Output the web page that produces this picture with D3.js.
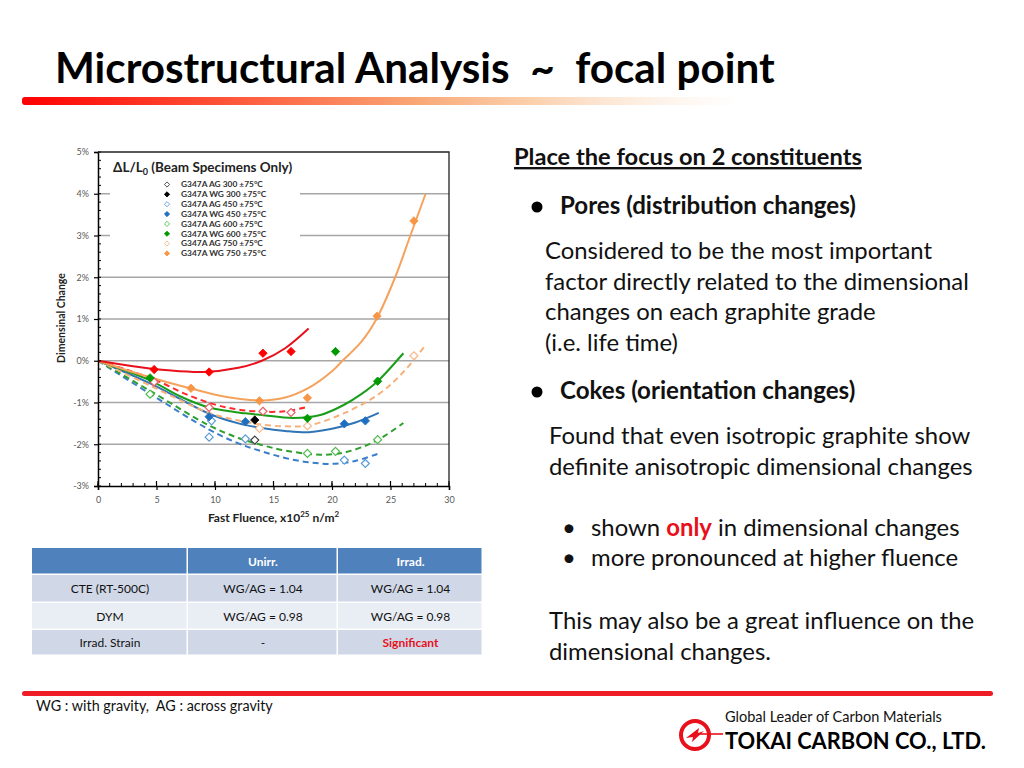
<!DOCTYPE html>
<html>
<head>
<meta charset="utf-8">
<script src="https://cdn.jsdelivr.net/npm/d3@7"></script>
<style>
  body { margin: 0; background: #fff; }
  svg { display: block; }
</style>
</head>
<body>
<svg id="slide" width="1024" height="768"></svg>
<script>
// ---- chart data ----
const xTickValues = [0, 5, 10, 15, 20, 25, 30];
const yTickValues = [-3, -2, -1, 0, 1, 2, 3, 4, 5];

const legendLabels = [
  "G347A AG 300 \u00b175\u00b0C", "G347A WG 300 \u00b175\u00b0C",
  "G347A AG 450 \u00b175\u00b0C", "G347A WG 450 \u00b175\u00b0C",
  "G347A AG 600 \u00b175\u00b0C", "G347A WG 600 \u00b175\u00b0C",
  "G347A AG 750 \u00b175\u00b0C", "G347A WG 750 \u00b175\u00b0C"
];

// measured points [fluence, dL/L0 %]
const ptsAG300 = [[13.4, -1.90]];
const ptsWG300 = [[13.4, -1.42]];
const ptsAG450 = [[9.7, -1.44], [9.5, -1.83], [12.6, -1.87], [21.05, -2.38], [22.85, -2.46]];
const ptsWG450 = [[9.5, -1.34], [12.6, -1.46], [21.05, -1.51], [22.85, -1.44]];
const ptsAG600 = [[4.45, -0.80], [17.9, -2.22], [20.3, -2.17], [23.9, -1.89]];
const ptsWG600 = [[4.45, -0.41], [17.9, -1.38], [20.3, 0.22], [23.9, -0.49]];
const ptsAG750 = [[13.8, -1.62], [17.9, -1.56], [27.0, 0.12]];
const ptsWG750 = [[7.95, -0.66], [13.8, -0.96], [17.9, -0.89], [23.85, 1.07], [27.0, 3.35]];
// red series (not in the legend)
const ptsAGRed = [[4.8, -0.51], [9.5, -1.12], [14.1, -1.21], [16.5, -1.24]];
const ptsWGRed = [[4.8, -0.21], [9.5, -0.27], [14.1, 0.18], [16.5, 0.22]];

// trend curves
const fitWGRed = [[0, 0], [3, -0.13], [6, -0.23], [9, -0.27], [12, -0.17], [14, 0], [16, 0.3], [18, 0.77]];
const fitAGRed = [[0, 0], [2.5, -0.22], [5, -0.47], [7.5, -0.8], [10, -1.05], [12, -1.17], [14, -1.22], [16, -1.21], [17.7, -1.12]];
const fitWG750 = [[0, 0], [4, -0.36], [8, -0.67], [11, -0.87], [14, -0.95], [16, -0.88], [18, -0.65], [20, -0.25], [20.9, 0], [22.5, 0.45], [23.8, 1.0], [25.4, 2.0], [26.7, 3.0], [28, 4.0]];
const fitAG750 = [[0, 0], [4.5, -0.6], [9.5, -1.25], [12, -1.43], [14, -1.53], [16, -1.57], [18, -1.55], [21, -1.26], [24, -0.8], [26, -0.3], [27.9, 0.34]];
const fitWG600 = [[0, 0], [4.45, -0.47], [7, -0.85], [9.5, -1.12], [12.6, -1.26], [14, -1.3], [16.7, -1.37], [19, -1.3], [21, -1.06], [22.5, -0.8], [23.9, -0.49], [26.1, 0.18]];
const fitAG600 = [[0, 0], [4.45, -0.72], [9.5, -1.55], [12, -1.85], [14, -2.02], [16, -2.15], [19, -2.25], [21, -2.2], [23, -2.02], [24.5, -1.8], [26.1, -1.49]];
const fitWG450 = [[0, 0], [4.5, -0.55], [9.5, -1.27], [12, -1.5], [14, -1.61], [16, -1.68], [18, -1.71], [20, -1.63], [22, -1.48], [24, -1.25]];
const fitAG450 = [[0, 0], [4.5, -0.8], [9.5, -1.65], [12, -1.98], [14, -2.17], [16, -2.33], [18, -2.43], [20, -2.47], [22, -2.4], [24, -2.22]];

// table
const tableHeader = ["", "Unirr.", "Irrad."];
const tableRows = [
  ["CTE (RT-500C)", "WG/AG = 1.04", "WG/AG = 1.04"],
  ["DYM", "WG/AG = 0.98", "WG/AG = 0.98"],
  ["Irrad. Strain", "-", "Significant"]
];

// ---- drawing ----
const FONT = "Lato, 'Open Sans', 'DejaVu Sans', sans-serif";
const svg = d3.select("#slide").attr("font-family", FONT);
svg.append("rect").attr("width", 1024).attr("height", 768).attr("fill", "#fff");

// helper to find a font size that makes a string a given width
const probe = svg.append("text").attr("visibility", "hidden");
function sizeFor(str, width, weight) {
  probe.attr("font-weight", weight || "normal").attr("font-size", 100).text(str);
  return 100 * width / probe.node().getComputedTextLength();
}

// title + gradient bar
const defs = svg.append("defs");
const grad = defs.append("linearGradient").attr("id", "bar");
[[0, "#ff0000", 1], [0.3, "#ff5a3c", 1], [0.55, "#f9a877", 1], [0.7, "#fbc9a0", 0.9], [1, "#fde8d6", 0]]
  .forEach(s => grad.append("stop").attr("offset", s[0]).attr("stop-color", s[1]).attr("stop-opacity", s[2]));

const title = "Microstructural Analysis\u00a0 ~\u00a0 focal point";
svg.append("text").attr("x", 55).attr("y", 83)
  .attr("font-weight", "bold").attr("font-size", sizeFor(title, 720, "bold"))
  .attr("fill", "#000").text(title);
svg.append("rect").attr("x", 22).attr("y", 97).attr("width", 723).attr("height", 8)
  .attr("rx", 3).attr("fill", "url(#bar)");

// ---- chart ----
const x = d3.scaleLinear().domain([0, 30]).range([98, 449]);
const y = d3.scaleLinear().domain([-3, 5]).range([486, 152]);
const chart = svg.append("g");

chart.selectAll(".grid").data(yTickValues.filter(d => d > -3 && d < 5)).enter()
  .append("line").attr("class", "grid")
  .attr("x1", x(0)).attr("x2", x(30)).attr("y1", d => y(d)).attr("y2", d => y(d))
  .attr("stroke", "#a6a6a6").attr("stroke-width", 1.3);

// legend box (white, hides gridlines)
chart.append("rect").attr("x", 110).attr("y", 155).attr("width", 190).attr("height", 107).attr("fill", "#fff");

const line = d3.line().x(d => x(d[0])).y(d => y(d[1])).curve(d3.curveCatmullRom);
const curves = [
  { data: fitAG450, color: "#3a7dc9", dash: "6,4" },
  { data: fitAG600, color: "#2ca02c", dash: "6,4" },
  { data: fitWG450, color: "#2f75b5", dash: null },
  { data: fitAG750, color: "#f7b07a", dash: "6,4" },
  { data: fitWG600, color: "#1a9e1a", dash: null },
  { data: fitAGRed, color: "#ff2a2a", dash: "6,4" },
  { data: fitWG750, color: "#f5a25d", dash: null },
  { data: fitWGRed, color: "#e8101a", dash: null }
];
chart.selectAll(".fit").data(curves).enter().append("path").attr("class", "fit")
  .attr("d", d => line(d.data)).attr("fill", "none")
  .attr("stroke", d => d.color).attr("stroke-width", 2)
  .attr("stroke-dasharray", d => d.dash);

const diamond = r => `M0,${-r}L${r},0L0,${r}L${-r},0Z`;
const pointSets = [
  { data: ptsAG450, color: "#5b9bd5", open: true },
  { data: ptsAG600, color: "#4cbb4c", open: true },
  { data: ptsAG750, color: "#f9b98a", open: true },
  { data: ptsAGRed, color: "#e8606a", open: true },
  { data: ptsAG300, color: "#404040", open: true },
  { data: ptsWG450, color: "#1f6fc0", open: false },
  { data: ptsWG600, color: "#009a00", open: false },
  { data: ptsWG750, color: "#f79646", open: false },
  { data: ptsWGRed, color: "#ff0000", open: false },
  { data: ptsWG300, color: "#000000", open: false }
];
pointSets.forEach(s => {
  chart.selectAll(null).data(s.data).enter().append("path")
    .attr("transform", d => `translate(${x(d[0])},${y(d[1])})`)
    .attr("d", diamond(s.open ? 4 : 4.2))
    .attr("fill", s.open ? "#fff" : s.color)
    .attr("stroke", s.color).attr("stroke-width", s.open ? 1.2 : 0.8);
});

// axes
const yAxis = chart.append("g").attr("transform", `translate(${x(0)},0)`)
  .call(d3.axisLeft(y).tickValues(yTickValues).tickFormat(d => d + "%").tickSize(4).tickPadding(5));
const xAxis = chart.append("g").attr("transform", `translate(0,${y(-3)})`)
  .call(d3.axisBottom(x).tickValues(xTickValues).tickSize(4).tickPadding(7));
[yAxis, xAxis].forEach(a => {
  a.select(".domain").attr("stroke", "#000").attr("stroke-width", 1.5);
  a.selectAll(".tick line").attr("stroke", "#000").attr("stroke-width", 1.2);
  a.selectAll("text").attr("font-family", FONT).attr("font-size", 9).attr("fill", "#595959");
});
// inner major and minor ticks
chart.selectAll(".ymin").data(d3.range(-3, 5.01, 0.2)).enter().append("line")
  .attr("x1", x(0)).attr("x2", x(0) + 3).attr("y1", d => y(d)).attr("y2", d => y(d))
  .attr("stroke", "#000").attr("stroke-width", 1);
chart.selectAll(".xmin").data(d3.range(0, 30.01, 1)).enter().append("line")
  .attr("y1", y(-3)).attr("y2", y(-3) - 3).attr("x1", d => x(d)).attr("x2", d => x(d))
  .attr("stroke", "#000").attr("stroke-width", 1);
chart.selectAll(".xmaj").data(xTickValues).enter().append("line")
  .attr("y1", y(-3)).attr("y2", y(-3) - 5).attr("x1", d => x(d)).attr("x2", d => x(d))
  .attr("stroke", "#000").attr("stroke-width", 1.2);
// plot frame (top and right)
chart.append("path").attr("d", `M${x(0)},${y(5)}H${x(30)}V${y(-3)}`)
  .attr("fill", "none").attr("stroke", "#222").attr("stroke-width", 1.3);

// axis titles
chart.append("text").attr("transform", `translate(65,${(y(5) + y(-3)) / 2 - 1}) rotate(-90)`)
  .attr("text-anchor", "middle").attr("font-weight", "bold").attr("font-size", 10.5).attr("fill", "#222")
  .text("Dimensinal Change");
const xl = chart.append("text").attr("x", (x(0) + x(30)) / 2).attr("y", 522)
  .attr("text-anchor", "middle").attr("font-weight", "bold").attr("font-size", 12).attr("fill", "#222");
xl.append("tspan").text("Fast Fluence, x10");
xl.append("tspan").attr("dy", -5).attr("font-size", 8).text("25");
xl.append("tspan").attr("dy", 5).text(" n/m");
xl.append("tspan").attr("dy", -5).attr("font-size", 8).text("2");

// legend
const lt = chart.append("text").attr("x", 113).attr("y", 172)
  .attr("font-weight", "bold").attr("font-size", 13.5).attr("fill", "#222");
lt.append("tspan").text("\u0394L/L");
lt.append("tspan").attr("dy", 3).attr("font-size", 9).text("0");
lt.append("tspan").attr("dy", -3).text(" (Beam Specimens Only)");
const legendColors = ["#404040", "#000000", "#5b9bd5", "#1f6fc0", "#4cbb4c", "#009a00", "#f9b98a", "#f79646"];
const leg = chart.selectAll(".leg").data(legendLabels).enter().append("g")
  .attr("transform", (d, i) => `translate(167,${184.5 + i * 9.85})`);
leg.append("path").attr("d", diamond(2.6))
  .attr("fill", (d, i) => i % 2 ? legendColors[i] : "#fff")
  .attr("stroke", (d, i) => legendColors[i]).attr("stroke-width", 0.9);
leg.append("text").attr("x", 14).attr("dy", "0.33em").attr("font-size", 8.4)
  .attr("font-weight", "bold").attr("fill", "#333").text(d => d);

// ---- table ----
const colX = [32, 188, 338, 483];
const rowY = [548, 575, 603, 630, 656];
const fills = ["#4f81bd", "#d0d8e8", "#e9edf4", "#d0d8e8"];
const table = svg.append("g");
[tableHeader].concat(tableRows).forEach((row, r) => {
  row.forEach((cell, c) => {
    table.append("rect").attr("x", colX[c]).attr("y", rowY[r])
      .attr("width", colX[c + 1] - colX[c] - 1.5).attr("height", rowY[r + 1] - rowY[r] - 1.5)
      .attr("fill", fills[r]);
    const red = cell === "Significant";
    table.append("text").attr("x", (colX[c] + colX[c + 1]) / 2).attr("y", (rowY[r] + rowY[r + 1]) / 2 + 4)
      .attr("text-anchor", "middle").attr("font-size", 12)
      .attr("font-weight", r === 0 || red ? "bold" : "normal")
      .attr("fill", r === 0 ? "#fff" : red ? "#e8101a" : "#111").text(cell);
  });
});

// ---- right text block ----
const body = sizeFor("factor directly related to the dimensional", 424);
const head = sizeFor("Pores (distribution changes)", 296, "bold");
const rt = svg.append("g").attr("fill", "#111");
rt.append("text").attr("x", 514).attr("y", 165).attr("font-weight", "bold")
  .attr("font-size", sizeFor("Place the focus on 2 constituents", 348, "bold"))
  .attr("text-decoration", "underline").text("Place the focus on 2 constituents");

[[214, "Pores (distribution changes)"], [399, "Cokes (orientation changes)"]].forEach(b => {
  rt.append("circle").attr("cx", 537).attr("cy", b[0] - 7).attr("r", 5.5).attr("fill", "#000");
  rt.append("text").attr("x", 560).attr("y", b[0]).attr("font-weight", "bold").attr("font-size", head).text(b[1]);
});
const lines = [
  [545, 259, "Considered to be the most important"],
  [545, 290, "factor directly related to the dimensional"],
  [545, 320, "changes on each graphite grade"],
  [545, 351, "(i.e. life time)"],
  [549, 444, "Found that even isotropic graphite show"],
  [549, 475, "definite anisotropic dimensional changes"],
  [549, 629, "This may also be a great influence on the"],
  [549, 660, "dimensional changes."]
];
lines.forEach(l => rt.append("text").attr("x", l[0]).attr("y", l[1]).attr("font-size", body).text(l[2]));

rt.append("text").attr("x", 562).attr("y", 536).attr("font-size", body).text("\u2022");
const s1 = rt.append("text").attr("x", 591).attr("y", 536).attr("font-size", body);
s1.append("tspan").text("shown ");
s1.append("tspan").attr("fill", "#e8101a").attr("font-weight", "bold").text("only");
s1.append("tspan").text(" in dimensional changes");
rt.append("text").attr("x", 562).attr("y", 566).attr("font-size", body).text("\u2022");
rt.append("text").attr("x", 591).attr("y", 566).attr("font-size", body).text("more pronounced at higher fluence");

// ---- footer ----
svg.append("rect").attr("x", 22).attr("y", 691).attr("width", 971).attr("height", 5)
  .attr("rx", 2.5).attr("fill", "#ee1c25");
svg.append("text").attr("x", 36).attr("y", 711)
  .attr("font-size", sizeFor("WG : with gravity,\u00a0 AG : across gravity", 237))
  .attr("fill", "#111").text("WG : with gravity,\u00a0 AG : across gravity");

const logo = svg.append("g").attr("transform", "translate(695,735)");
logo.append("circle").attr("r", 14).attr("fill", "none").attr("stroke", "#e8101a").attr("stroke-width", 4);
logo.append("path").attr("d", "M-9,3 L4,-7 L3,-2 L9,-4 L-3,7 L-2,2 Z").attr("fill", "#e8101a");
logo.append("path").attr("d", "M3,-1 H28").attr("stroke", "#e8101a").attr("stroke-width", 1.6);
svg.append("text").attr("x", 725).attr("y", 722)
  .attr("font-size", sizeFor("Global Leader of Carbon Materials", 217))
  .attr("fill", "#111").text("Global Leader of Carbon Materials");
svg.append("text").attr("x", 725).attr("y", 749).attr("font-weight", "bold")
  .attr("font-size", sizeFor("TOKAI CARBON CO., LTD.", 261, "bold"))
  .attr("fill", "#000").text("TOKAI CARBON CO., LTD.");

probe.remove();
</script>
</body>
</html>
